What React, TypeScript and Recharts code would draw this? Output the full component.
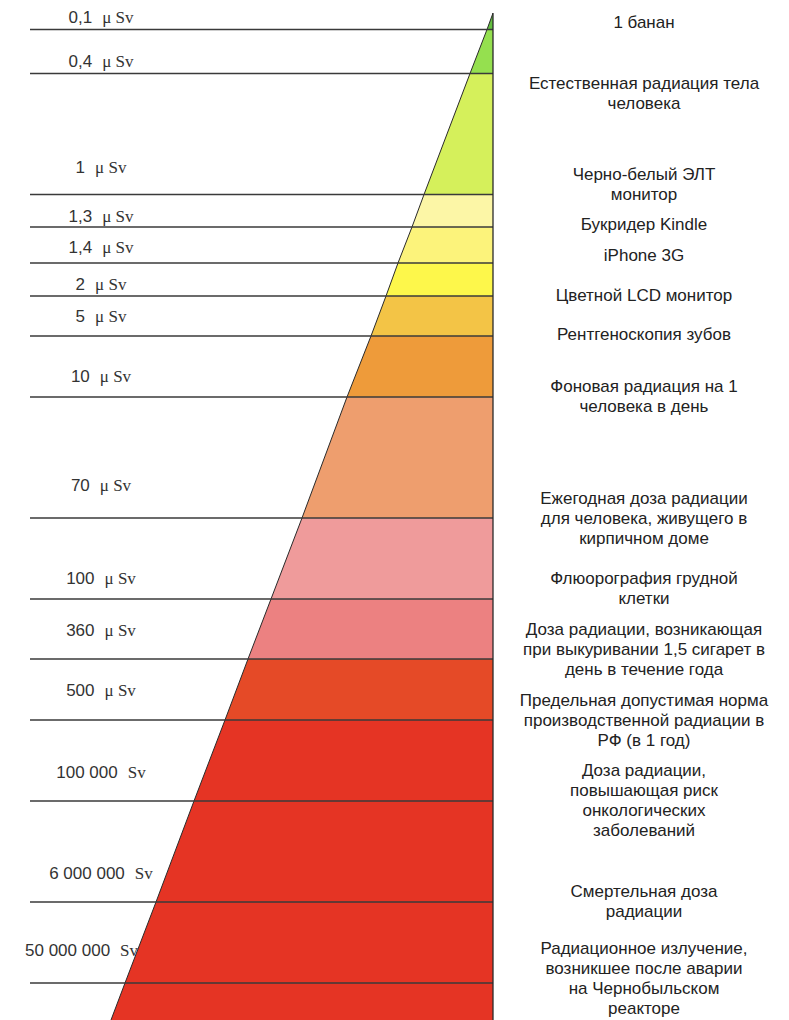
import React from 'react';
import { ComposedChart, Area, XAxis, YAxis, ReferenceLine } from 'recharts';

// границы полос пирамиды сверху вниз и её ширина на каждой границе
const bounds = [13, 29.5, 73.5, 194.5, 227, 263, 296, 336, 397, 518, 599, 659, 720, 801, 902, 983, 1020];
const widths = [0, 6, 23, 69, 81, 95, 107, 122, 146, 191, 222, 245, 268, 299, 337, 368, 382];
const bandColors = [
  '#63bf3f', '#95e04f', '#d5f05b', '#fcf6a6', '#fcf37b', '#fdf74b', '#f3c446', '#ee9b3a',
  '#ee9e6e', '#ef9b9b', '#ec8181', '#e54a27', '#e53424', '#e53424', '#e53424', '#e53424',
];

// дозы слева
const doseValues = ['0,1', '0,4', '1', '1,3', '1,4', '2', '5', '10', '70', '100', '360', '500', '100 000', '6 000 000', '50 000 000'];
const doseUnits = ['μ Sv', 'μ Sv', 'μ Sv', 'μ Sv', 'μ Sv', 'μ Sv', 'μ Sv', 'μ Sv', 'μ Sv', 'μ Sv', 'μ Sv', 'μ Sv', 'Sv', 'Sv', 'Sv'];
const dosePos = [17, 61, 167, 216, 247, 284, 316, 376, 485, 578, 630, 690, 772, 873, 950];

// источники справа
const sourceLabels = [
  '1 банан',
  'Естественная радиация тела\nчеловека',
  'Черно-белый ЭЛТ\nмонитор',
  'Букридер Kindle',
  'iPhone 3G',
  'Цветной LCD монитор',
  'Рентгеноскопия зубов',
  'Фоновая радиация на 1\nчеловека в день',
  'Ежегодная доза радиации\nдля человека, живущего в\nкирпичном доме',
  'Флюорография грудной\nклетки',
  'Доза радиации, возникающая\nпри выкуривании 1,5 сигарет в\nдень в течение года',
  'Предельная допустимая норма\nпроизводственной радиации в\nРФ (в 1 год)',
  'Доза радиации,\nповышающая риск\nонкологических\nзаболеваний',
  'Смертельная доза\nрадиации',
  'Радиационное излучение,\nвозникшее после аварии\nна Чернобыльском\nреакторе',
];
const sourcePos = [22, 93, 184, 224, 255, 295, 334, 396, 518, 588, 649, 720, 800, 901, 978];

const data = bounds.map((pos, i) => ({ pos, w: widths[i], i }));

const sans = "'Liberation Sans', Arial, sans-serif";
const serif = "'Liberation Serif', 'Times New Roman', serif";

const DoseTick = ({ y, payload }: any) => {
  const i = dosePos.indexOf(payload.value);
  if (i < 0) return null;
  // самая длинная подпись упирается в край пирамиды — прижимаем её влево
  const long = doseValues[i].length > 9;
  return (
    <text x={long ? 25 : 101} y={y} dy="0.35em" textAnchor={long ? 'start' : 'middle'} fontSize={17} fill="#333">
      <tspan fontFamily={sans}>{doseValues[i]}</tspan>
      <tspan fontFamily={serif} dx={10}>{doseUnits[i]}</tspan>
    </text>
  );
};

const SourceTick = ({ y, payload }: any) => {
  const i = sourcePos.indexOf(payload.value);
  if (i < 0) return null;
  const lines = sourceLabels[i].split('\n');
  const lh = 20.3;
  return (
    <text x={644} y={y} textAnchor="middle" fontSize={17} fontFamily={sans} fill="#222">
      {lines.map((t, k) => (
        <tspan key={k} x={644} dy={k === 0 ? -((lines.length - 1) * lh) / 2 + 6 : lh}>
          {t}
        </tspan>
      ))}
    </text>
  );
};

export default function App() {
  return (
    <div style={{ position: 'absolute', left: 0, top: 0, background: '#fff' }}>
      <ComposedChart width={789} height={1020} data={data} layout="vertical" margin={{ top: 0, right: 0, bottom: 0, left: 0 }}>
        <XAxis type="number" domain={[0, 463]} reversed hide allowDataOverflow />
        <YAxis
          yAxisId="left"
          type="number"
          dataKey="pos"
          domain={[0, 1020]}
          allowDataOverflow
          width={30}
          ticks={dosePos}
          interval={0}
          tick={<DoseTick />}
          tickLine={false}
          axisLine={false}
        />
        <YAxis
          yAxisId="right"
          orientation="right"
          type="number"
          dataKey="pos"
          domain={[0, 1020]}
          allowDataOverflow
          width={296}
          ticks={sourcePos}
          interval={0}
          tick={<SourceTick />}
          tickLine={false}
          axisLine={false}
        />
        {bandColors.map((c, b) => (
          <Area
            key={b}
            yAxisId="left"
            type="linear"
            dataKey={(d: any) => (d.i === b || d.i === b + 1 ? d.w : null)}
            name={`band${b}`}
            fill={c}
            fillOpacity={1}
            stroke="#2a2a2a"
            strokeWidth={1}
            connectNulls={false}
            dot={false}
            activeDot={false}
            isAnimationActive={false}
          />
        ))}
        {bounds.slice(1, -1).map((b) => (
          <ReferenceLine key={b} yAxisId="left" y={b} stroke="#3a3a3a" strokeWidth={1.3} />
        ))}
        <ReferenceLine
          yAxisId="left"
          segment={[{ x: 0, y: bounds[0] }, { x: 0, y: bounds[bounds.length - 1] }]}
          stroke="#2a2a2a"
          strokeWidth={1.3}
        />
      </ComposedChart>
    </div>
  );
}
